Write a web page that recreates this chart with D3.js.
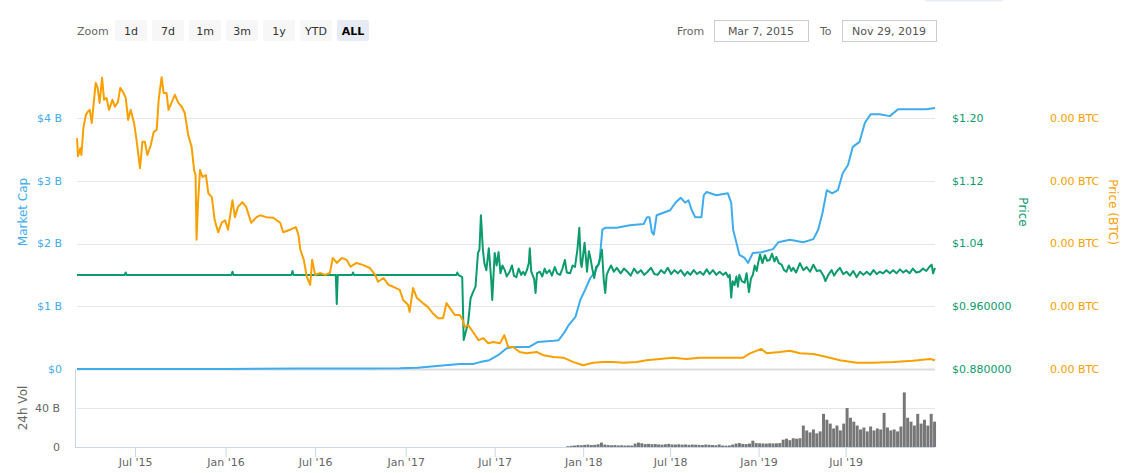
<!DOCTYPE html>
<html>
<head>
<meta charset="utf-8">
<script src="https://cdn.jsdelivr.net/npm/d3@7"></script>
<style>
  body { margin: 0; background: #fff; }
  svg { display: block; font-family: "DejaVu Sans", sans-serif; }
</style>
</head>
<body>
<script>
const width = 1127;
const height = 473;

// ---- data ----
const zoomButtons = ["1d", "7d", "1m", "3m", "1y", "YTD", "ALL"];
const rangeFrom = "Mar 7, 2015";
const rangeTo = "Nov 29, 2019";

const capTicks = [0, 1, 2, 3, 4];                 // billions USD
const priceTicks = [0.88, 0.96, 1.04, 1.12, 1.20]; // USD
const btcTicks = [0, 0.001, 0.002, 0.003, 0.004];  // BTC
const volTicks = [0, 40];                           // billions USD
const xTickDates = ["2015-07-01", "2016-01-01", "2016-07-01", "2017-01-01", "2017-07-01",
  "2018-01-01", "2018-07-01", "2019-01-01", "2019-07-01"];

// market cap, billions USD
const marketCap = [
  ["2015-03-05", 0.0003], ["2015-09-01", 0.0005], ["2016-01-01", 0.001], ["2016-06-01", 0.006],
  ["2016-10-20", 0.008], ["2016-12-20", 0.01], ["2017-01-25", 0.02], ["2017-03-11", 0.05],
  ["2017-04-21", 0.08], ["2017-05-18", 0.08], ["2017-06-01", 0.11], ["2017-06-20", 0.14],
  ["2017-07-08", 0.22], ["2017-07-26", 0.33], ["2017-08-09", 0.35], ["2017-09-10", 0.35],
  ["2017-09-28", 0.43], ["2017-11-01", 0.45], ["2017-11-11", 0.46], ["2017-11-22", 0.57],
  ["2017-12-02", 0.70], ["2017-12-16", 0.83], ["2017-12-26", 1.10], ["2018-01-05", 1.26],
  ["2018-01-16", 1.45], ["2018-01-26", 1.55], ["2018-02-04", 1.71], ["2018-02-10", 2.22],
  ["2018-02-16", 2.25], ["2018-03-12", 2.25], ["2018-04-08", 2.29], ["2018-05-07", 2.31],
  ["2018-05-14", 2.42], ["2018-05-19", 2.42], ["2018-05-24", 2.18], ["2018-05-28", 2.14],
  ["2018-06-03", 2.45], ["2018-07-01", 2.53], ["2018-07-12", 2.65], ["2018-07-23", 2.73],
  ["2018-08-01", 2.65], ["2018-08-08", 2.69], ["2018-08-15", 2.53], ["2018-08-22", 2.42],
  ["2018-09-04", 2.42], ["2018-09-09", 2.77], ["2018-09-15", 2.82], ["2018-10-05", 2.77],
  ["2018-10-29", 2.80], ["2018-11-05", 2.65], ["2018-11-09", 2.22], ["2018-11-16", 2.01],
  ["2018-11-22", 1.82], ["2018-12-03", 1.77], ["2018-12-10", 1.69], ["2018-12-20", 1.85],
  ["2019-01-07", 1.86], ["2019-01-31", 1.91], ["2019-02-11", 2.02], ["2019-03-07", 2.06],
  ["2019-04-04", 2.02], ["2019-04-25", 2.07], ["2019-05-05", 2.22], ["2019-05-14", 2.49],
  ["2019-05-23", 2.85], ["2019-06-03", 2.80], ["2019-06-15", 2.85], ["2019-06-25", 3.12],
  ["2019-07-06", 3.25], ["2019-07-16", 3.54], ["2019-07-30", 3.62], ["2019-08-10", 3.92],
  ["2019-08-22", 4.06], ["2019-09-10", 4.06], ["2019-10-01", 4.03], ["2019-10-18", 4.14],
  ["2019-11-19", 4.14], ["2019-12-16", 4.14], ["2020-01-03", 4.16]
];

// price, USD
const priceUsd = [
  ["2015-03-05", 1.000], ["2015-06-10", 1.000], ["2015-06-12", 1.003], ["2015-06-14", 1.000],
  ["2016-01-13", 1.000], ["2016-01-15", 1.004], ["2016-01-17", 1.000], ["2016-05-14", 1.000],
  ["2016-05-16", 1.005], ["2016-05-18", 1.000], ["2016-08-12", 1.000], ["2016-08-14", 0.963],
  ["2016-08-16", 1.000], ["2016-09-14", 1.000], ["2016-09-16", 1.003], ["2016-09-18", 1.000],
  ["2017-04-14", 1.000], ["2017-04-16", 1.003], ["2017-04-18", 1.000],
  ["2017-04-26", 0.997], ["2017-04-29", 0.917], ["2017-05-03", 0.927], ["2017-05-08", 0.939],
  ["2017-05-13", 0.970], ["2017-05-18", 0.978], ["2017-05-23", 0.985], ["2017-05-28", 1.028],
  ["2017-05-31", 1.032], ["2017-06-03", 1.076], ["2017-06-07", 1.032], ["2017-06-10", 1.015],
  ["2017-06-14", 1.006], ["2017-06-19", 1.034], ["2017-06-24", 0.993], ["2017-06-26", 0.968],
  ["2017-07-01", 1.028], ["2017-07-05", 1.012], ["2017-07-09", 1.029], ["2017-07-13", 1.002],
  ["2017-07-17", 1.012], ["2017-07-22", 1.006], ["2017-07-26", 0.998], ["2017-08-01", 1.004],
  ["2017-08-06", 1.012], ["2017-08-10", 0.999], ["2017-08-15", 0.997], ["2017-08-20", 1.008],
  ["2017-08-25", 1.000], ["2017-08-29", 1.004], ["2017-09-02", 1.000], ["2017-09-06", 1.006],
  ["2017-09-10", 1.015], ["2017-09-12", 1.034], ["2017-09-15", 1.004], ["2017-09-21", 0.995],
  ["2017-09-24", 0.977], ["2017-09-27", 1.002], ["2017-10-03", 1.004], ["2017-10-08", 0.998],
  ["2017-10-13", 1.008], ["2017-10-17", 1.002], ["2017-10-23", 1.006], ["2017-10-28", 0.999],
  ["2017-11-03", 1.010], ["2017-11-08", 1.002], ["2017-11-14", 1.000], ["2017-11-19", 1.008],
  ["2017-11-24", 1.019], ["2017-11-28", 1.003], ["2017-12-05", 1.002], ["2017-12-10", 1.012],
  ["2017-12-15", 1.010], ["2017-12-20", 1.032], ["2017-12-24", 1.060], ["2017-12-27", 1.015],
  ["2017-12-29", 1.010], ["2018-01-04", 1.041], ["2018-01-07", 1.020], ["2018-01-09", 1.004],
  ["2018-01-13", 1.030], ["2018-01-16", 1.022], ["2018-01-20", 1.008], ["2018-01-24", 0.996],
  ["2018-01-28", 1.010], ["2018-02-02", 1.013], ["2018-02-09", 1.032], ["2018-02-13", 0.993],
  ["2018-02-16", 0.977], ["2018-02-19", 1.000], ["2018-02-23", 1.006], ["2018-02-28", 1.012],
  ["2018-03-06", 1.004], ["2018-03-12", 1.009], ["2018-03-20", 1.002], ["2018-03-27", 1.008],
  ["2018-04-03", 1.004], ["2018-04-10", 0.999], ["2018-04-17", 1.008], ["2018-04-24", 1.002],
  ["2018-05-01", 1.006], ["2018-05-08", 1.000], ["2018-05-15", 1.004], ["2018-05-22", 1.009],
  ["2018-05-29", 1.001], ["2018-06-05", 1.000], ["2018-06-12", 1.006], ["2018-06-19", 1.002],
  ["2018-06-26", 1.009], ["2018-07-03", 1.001], ["2018-07-10", 1.006], ["2018-07-17", 1.002],
  ["2018-07-23", 1.006], ["2018-07-31", 0.999], ["2018-08-06", 1.004], ["2018-08-12", 1.000],
  ["2018-08-19", 1.006], ["2018-08-26", 1.001], ["2018-09-01", 1.004], ["2018-09-08", 1.000],
  ["2018-09-15", 1.007], ["2018-09-21", 1.001], ["2018-09-28", 1.006], ["2018-10-05", 1.000],
  ["2018-10-12", 1.004], ["2018-10-19", 1.000], ["2018-10-25", 1.003], ["2018-10-30", 0.997],
  ["2018-11-02", 1.000], ["2018-11-05", 0.971], ["2018-11-08", 0.992], ["2018-11-12", 0.987],
  ["2018-11-16", 0.998], ["2018-11-19", 0.985], ["2018-11-22", 1.000], ["2018-11-27", 0.992],
  ["2018-12-03", 0.990], ["2018-12-07", 1.002], ["2018-12-12", 0.978], ["2018-12-16", 0.995],
  ["2018-12-20", 1.000], ["2018-12-24", 1.012], ["2018-12-28", 1.005], ["2018-12-31", 1.015],
  ["2019-01-04", 1.026], ["2019-01-09", 1.015], ["2019-01-14", 1.025], ["2019-01-19", 1.018],
  ["2019-01-24", 1.019], ["2019-01-29", 1.027], ["2019-02-03", 1.017], ["2019-02-07", 1.023],
  ["2019-02-12", 1.015], ["2019-02-18", 1.013], ["2019-02-23", 1.006], ["2019-02-28", 1.004],
  ["2019-03-05", 1.012], ["2019-03-10", 1.005], ["2019-03-14", 1.009], ["2019-03-20", 1.003],
  ["2019-03-28", 1.015], ["2019-04-04", 1.006], ["2019-04-11", 1.010], ["2019-04-18", 1.004],
  ["2019-04-25", 1.013], ["2019-05-02", 1.005], ["2019-05-09", 1.006], ["2019-05-16", 0.999],
  ["2019-05-20", 0.992], ["2019-05-26", 1.000], ["2019-06-02", 1.006], ["2019-06-07", 0.999],
  ["2019-06-12", 1.004], ["2019-06-19", 1.009], ["2019-06-26", 1.001], ["2019-07-03", 1.004],
  ["2019-07-10", 0.999], ["2019-07-17", 1.005], ["2019-07-24", 0.997], ["2019-07-31", 1.004],
  ["2019-08-07", 1.000], ["2019-08-14", 1.004], ["2019-08-21", 1.000], ["2019-08-28", 1.006],
  ["2019-09-04", 1.001], ["2019-09-10", 1.004], ["2019-09-17", 1.002], ["2019-09-24", 1.006],
  ["2019-10-01", 1.002], ["2019-10-08", 1.006], ["2019-10-15", 1.002], ["2019-10-22", 1.007],
  ["2019-10-29", 1.003], ["2019-11-04", 1.006], ["2019-11-11", 1.002], ["2019-11-18", 1.008],
  ["2019-11-25", 1.003], ["2019-12-02", 1.004], ["2019-12-09", 1.008], ["2019-12-16", 1.005],
  ["2019-12-22", 1.010], ["2019-12-27", 1.013], ["2019-12-30", 1.002], ["2020-01-03", 1.009]
];

// price, BTC
const priceBtc = [
  ["2015-03-05", 0.00368], ["2015-03-07", 0.00339], ["2015-03-12", 0.00352], ["2015-03-14", 0.00341],
  ["2015-03-18", 0.00384], ["2015-03-23", 0.00405], ["2015-03-27", 0.00410], ["2015-03-31", 0.00413],
  ["2015-04-04", 0.00392], ["2015-04-08", 0.00424], ["2015-04-12", 0.00456], ["2015-04-16", 0.00448],
  ["2015-04-20", 0.00424], ["2015-04-25", 0.00464], ["2015-04-29", 0.00429], ["2015-05-04", 0.00432],
  ["2015-05-09", 0.00413], ["2015-05-16", 0.00429], ["2015-05-21", 0.00418], ["2015-05-27", 0.00425],
  ["2015-06-01", 0.00448], ["2015-06-07", 0.00441], ["2015-06-12", 0.00432], ["2015-06-17", 0.00397],
  ["2015-06-22", 0.00413], ["2015-06-29", 0.00392], ["2015-07-04", 0.00365], ["2015-07-11", 0.00320],
  ["2015-07-16", 0.00362], ["2015-07-21", 0.00362], ["2015-07-26", 0.00341], ["2015-08-02", 0.00357],
  ["2015-08-08", 0.00378], ["2015-08-14", 0.00381], ["2015-08-18", 0.00429], ["2015-08-24", 0.00465],
  ["2015-08-28", 0.00440], ["2015-09-03", 0.00440], ["2015-09-07", 0.00413], ["2015-09-13", 0.00424],
  ["2015-09-20", 0.00437], ["2015-09-27", 0.00424], ["2015-10-04", 0.00418], ["2015-10-10", 0.00408],
  ["2015-10-17", 0.00373], ["2015-10-24", 0.00354], ["2015-10-29", 0.00317], ["2015-11-01", 0.00309],
  ["2015-11-03", 0.00206], ["2015-11-06", 0.00265], ["2015-11-10", 0.00317], ["2015-11-15", 0.00306],
  ["2015-11-22", 0.00309], ["2015-11-27", 0.00280], ["2015-12-04", 0.00274], ["2015-12-10", 0.00237],
  ["2015-12-17", 0.00218], ["2015-12-24", 0.00233], ["2015-12-31", 0.00237], ["2016-01-06", 0.00222],
  ["2016-01-15", 0.00269], ["2016-01-20", 0.00242], ["2016-01-26", 0.00258], ["2016-02-04", 0.00266],
  ["2016-02-12", 0.00258], ["2016-02-22", 0.00233], ["2016-03-04", 0.00242], ["2016-03-11", 0.00245],
  ["2016-03-24", 0.00242], ["2016-04-07", 0.00241], ["2016-04-21", 0.00233], ["2016-04-27", 0.00218],
  ["2016-05-11", 0.00222], ["2016-05-23", 0.00226], ["2016-05-28", 0.00214], ["2016-06-01", 0.00190],
  ["2016-06-08", 0.00174], ["2016-06-14", 0.00147], ["2016-06-21", 0.00134], ["2016-06-25", 0.00174],
  ["2016-07-01", 0.00150], ["2016-07-11", 0.00153], ["2016-07-21", 0.00150], ["2016-07-31", 0.00153],
  ["2016-08-06", 0.00177], ["2016-08-14", 0.00169], ["2016-08-24", 0.00177], ["2016-09-03", 0.00174],
  ["2016-09-11", 0.00163], ["2016-09-23", 0.00169], ["2016-10-06", 0.00166], ["2016-10-20", 0.00161],
  ["2016-10-31", 0.00150], ["2016-11-06", 0.00139], ["2016-11-17", 0.00145], ["2016-11-27", 0.00134],
  ["2016-12-07", 0.00131], ["2016-12-20", 0.00126], ["2016-12-27", 0.00110], ["2017-01-06", 0.00102],
  ["2017-01-09", 0.00091], ["2017-01-16", 0.00129], ["2017-01-24", 0.00113], ["2017-02-05", 0.00105],
  ["2017-02-15", 0.00099], ["2017-02-25", 0.00089], ["2017-03-08", 0.00081], ["2017-03-18", 0.00081],
  ["2017-03-25", 0.00105], ["2017-04-01", 0.00097], ["2017-04-11", 0.00086], ["2017-04-21", 0.00086],
  ["2017-04-27", 0.00078], ["2017-05-01", 0.00067], ["2017-05-08", 0.00070], ["2017-05-18", 0.00059],
  ["2017-05-29", 0.00046], ["2017-06-08", 0.00049], ["2017-06-18", 0.00041], ["2017-06-28", 0.00043],
  ["2017-07-12", 0.00041], ["2017-07-21", 0.00054], ["2017-07-29", 0.00035], ["2017-08-08", 0.00035],
  ["2017-08-22", 0.00027], ["2017-09-05", 0.00025], ["2017-09-27", 0.00027], ["2017-10-10", 0.00022],
  ["2017-10-31", 0.00019], ["2017-11-21", 0.00018], ["2017-12-12", 0.00011], ["2018-01-01", 0.00006],
  ["2018-01-22", 0.00010], ["2018-02-11", 0.00011], ["2018-03-05", 0.00011], ["2018-03-26", 0.00010],
  ["2018-04-22", 0.00011], ["2018-05-13", 0.00014], ["2018-06-09", 0.00016], ["2018-07-07", 0.00018],
  ["2018-08-04", 0.00016], ["2018-09-01", 0.00018], ["2018-10-12", 0.00018], ["2018-11-30", 0.00018],
  ["2018-12-14", 0.00025], ["2019-01-07", 0.00032], ["2019-01-18", 0.00025], ["2019-02-14", 0.00027],
  ["2019-03-07", 0.00029], ["2019-03-28", 0.00025], ["2019-04-25", 0.00024], ["2019-05-23", 0.00019],
  ["2019-06-19", 0.00014], ["2019-07-24", 0.00010], ["2019-08-27", 0.00010], ["2019-10-08", 0.00011],
  ["2019-11-18", 0.00013], ["2019-12-24", 0.00016], ["2020-01-03", 0.00014]
];

// 24h volume, billions USD, one value per week starting volStart
const volStart = "2017-11-27";
const volWeekly = [
  0.8, 1.2, 1.5, 2.0, 1.8, 2.2, 2.5, 2.0, 2.2, 2.8, 4.5, 2.5, 2.0, 1.8, 2.0, 1.6, 1.8, 1.5,
  1.6, 1.5, 3.5, 4.5, 3.8, 3.0, 3.2, 2.8, 3.0, 2.6, 2.4, 2.8, 3.2, 2.6, 2.5, 2.8, 2.4, 2.6,
  2.2, 2.5, 2.4, 2.2, 2.0, 2.5, 2.3, 2.0, 1.8, 2.6, 1.5, 1.4, 1.6, 2.5, 3.5, 4.0, 3.2, 3.0,
  3.5, 6.5, 4.0, 3.8, 3.6, 3.5, 3.8, 3.6, 3.8, 4.0, 7.5, 8.5, 7.0, 9.0, 8.5, 9.0, 22.0, 17.0,
  15.0, 18.0, 14.0, 16.0, 34.0, 28.0, 24.0, 19.0, 22.0, 17.0, 24.0, 40.0, 30.0, 26.0, 22.0, 18.0,
  20.0, 16.0, 21.0, 17.0, 19.0, 18.0, 35.0, 20.0, 17.0, 18.0, 16.0, 21.0, 56.0, 30.0, 26.0, 22.0,
  34.0, 24.0, 28.0, 22.0, 34.0, 26.0
];

// ---- layout ----
const plotLeft = 77;
const plotRight = 935;
const mainTop = 118;     // $4 B grid line
const mainBottom = 369;  // $0 grid line
const volTop = 369;
const volBottom = 447;

const capColor = "#3eaced";
const priceColor = "#0c9b6b";
const btcColor = "#f9a000";
const labelGray = "#666";

const parse = d3.utcParse("%Y-%m-%d");

const svg = d3.select("body").append("svg")
  .attr("width", width)
  .attr("height", height);

// the original axis is ordinal-like: earlier years get a bit more room per day
const x = d3.scaleUtc()
  .domain([parse("2015-03-05"), parse("2017-07-01"), parse("2020-01-03")])
  .range([plotLeft, 494.7, plotRight]);

const yCap = d3.scaleLinear().domain([0, 4]).range([mainBottom, mainTop]);
const yPrice = d3.scaleLinear().domain([0.88, 1.20]).range([mainBottom, mainTop]);
const yBtc = d3.scaleLinear().domain([0, 0.004]).range([mainBottom, mainTop]);
const yVol = d3.scaleLinear().domain([0, 80]).range([volBottom, volTop]);

const crisp = v => Math.round(v) + 0.5;

// ---- top controls ----
const controls = svg.append("g");

controls.append("text")
  .attr("x", 77).attr("y", 31)
  .attr("dy", "0.35em")
  .attr("font-size", 11)
  .attr("fill", labelGray)
  .text("Zoom");

const btn = controls.selectAll("g.btn")
  .data(zoomButtons)
  .enter().append("g")
  .attr("class", "btn")
  .attr("transform", (d, i) => `translate(${115 + i * 37}, 20)`);

btn.append("rect")
  .attr("width", 32).attr("height", 21).attr("rx", 2)
  .attr("fill", d => d === "ALL" ? "#e6ebf5" : "#f7f7f7");

btn.append("text")
  .attr("x", 16).attr("y", 11)
  .attr("dy", "0.35em")
  .attr("text-anchor", "middle")
  .attr("font-size", 11)
  .attr("font-weight", d => d === "ALL" ? "bold" : "normal")
  .attr("fill", d => d === "ALL" ? "#000" : "#333")
  .text(d => d);

controls.append("text")
  .attr("x", 677).attr("y", 31).attr("dy", "0.35em")
  .attr("font-size", 11).attr("fill", labelGray)
  .text("From");

controls.append("text")
  .attr("x", 820).attr("y", 31).attr("dy", "0.35em")
  .attr("font-size", 11).attr("fill", labelGray)
  .text("To");

[[714, rangeFrom], [842, rangeTo]].forEach(([bx, label]) => {
  controls.append("rect")
    .attr("x", bx + 0.5).attr("y", 20.5)
    .attr("width", 94).attr("height", 21)
    .attr("fill", "#fff").attr("stroke", "#ccc");
  controls.append("text")
    .attr("x", bx + 47).attr("y", 31).attr("dy", "0.35em")
    .attr("text-anchor", "middle")
    .attr("font-size", 11).attr("fill", "#555")
    .text(label);
});

// sliver of a button cut off at the top edge
controls.append("rect")
  .attr("x", 925).attr("y", -3).attr("width", 78).attr("height", 4.5).attr("rx", 2)
  .attr("fill", "#e6ebf5");

// ---- grid lines ----
const grid = svg.append("g");

grid.selectAll("line.cap")
  .data(capTicks)
  .enter().append("line")
  .attr("x1", plotLeft).attr("x2", plotRight)
  .attr("y1", d => crisp(yCap(d))).attr("y2", d => crisp(yCap(d)))
  .attr("stroke", d => d === 0 ? "#dcdcdc" : "#e6e6e6")
  .attr("stroke-width", d => d === 0 ? 2 : 1);

grid.selectAll("line.vol")
  .data(volTicks.filter(d => d > 0))
  .enter().append("line")
  .attr("x1", plotLeft).attr("x2", plotRight)
  .attr("y1", d => crisp(yVol(d))).attr("y2", d => crisp(yVol(d)))
  .attr("stroke", "#e6e6e6");

// ---- volume bars ----
const volData = volWeekly.map((v, i) => {
  const d0 = d3.utcDay.offset(parse(volStart), i * 7);
  return { d0, d1: d3.utcDay.offset(d0, 7), v };
});

svg.append("g")
  .selectAll("rect")
  .data(volData)
  .enter().append("rect")
  .attr("x", d => x(d.d0))
  .attr("width", d => Math.max(0.5, x(d.d1) - x(d.d0) - 0.4))
  .attr("y", d => yVol(d.v))
  .attr("height", d => yVol(0) - yVol(d.v))
  .attr("fill", "#777");

// ---- lines ----
const lineOf = yScale => d3.line()
  .x(d => x(parse(d[0])))
  .y(d => yScale(d[1]));

svg.append("path")
  .datum(marketCap)
  .attr("d", lineOf(yCap))
  .attr("fill", "none").attr("stroke", capColor)
  .attr("stroke-width", 2).attr("stroke-linejoin", "round");

svg.append("path")
  .datum(priceUsd)
  .attr("d", lineOf(yPrice))
  .attr("fill", "none").attr("stroke", priceColor)
  .attr("stroke-width", 2).attr("stroke-linejoin", "round");

svg.append("path")
  .datum(priceBtc)
  .attr("d", lineOf(yBtc))
  .attr("fill", "none").attr("stroke", btcColor)
  .attr("stroke-width", 2).attr("stroke-linejoin", "round");

// ---- axes ----
// left: market cap
svg.append("g")
  .selectAll("text")
  .data(capTicks)
  .enter().append("text")
  .attr("x", 62).attr("y", d => yCap(d))
  .attr("dy", "0.35em").attr("text-anchor", "end")
  .attr("font-size", 11).attr("fill", capColor)
  .text(d => d === 0 ? "$0" : `$${d} B`);

// right: price USD
const fmtPrice = d => d < 1 ? "$" + d.toFixed(6) : "$" + d.toFixed(2);
svg.append("g")
  .selectAll("text")
  .data(priceTicks)
  .enter().append("text")
  .attr("x", 952).attr("y", d => yPrice(d))
  .attr("dy", "0.35em")
  .attr("font-size", 11).attr("fill", priceColor)
  .text(fmtPrice);

// right: price BTC
svg.append("g")
  .selectAll("text")
  .data(btcTicks)
  .enter().append("text")
  .attr("x", 1050).attr("y", d => yBtc(d))
  .attr("dy", "0.35em")
  .attr("font-size", 11).attr("fill", btcColor)
  .text(d => d.toFixed(2) + " BTC");

// volume axis
svg.append("g")
  .selectAll("text")
  .data(volTicks)
  .enter().append("text")
  .attr("x", 60).attr("y", d => yVol(d))
  .attr("dy", "0.35em").attr("text-anchor", "end")
  .attr("font-size", 11).attr("fill", labelGray)
  .text(d => d === 0 ? "0" : `${d} B`);

svg.append("line")
  .attr("x1", 75.5).attr("x2", 75.5)
  .attr("y1", volTop).attr("y2", volBottom)
  .attr("stroke", "#ccd6eb");

svg.append("line")
  .attr("x1", 75).attr("x2", plotRight)
  .attr("y1", volBottom + 0.5).attr("y2", volBottom + 0.5)
  .attr("stroke", "#ccd6eb");

const xAxis = d3.axisBottom(x)
  .tickValues(xTickDates.map(parse))
  .tickFormat(d3.utcFormat("%b '%y"))
  .tickSize(10)
  .tickSizeOuter(0)
  .tickPadding(1);

const xg = svg.append("g")
  .attr("transform", `translate(0, ${volBottom})`)
  .call(xAxis);

xg.select(".domain").remove();
xg.selectAll(".tick line").attr("stroke", "#ccd6eb");
xg.selectAll(".tick text")
  .attr("fill", labelGray)
  .attr("font-size", 11)
  .attr("font-family", "DejaVu Sans, sans-serif");

// ---- axis titles ----
const axisTitle = (tx, ty, rot, label, color) =>
  svg.append("text")
    .attr("transform", `translate(${tx}, ${ty}) rotate(${rot})`)
    .attr("text-anchor", "middle")
    .attr("dy", "0.35em")
    .attr("font-size", 12)
    .attr("fill", color)
    .text(label);

axisTitle(23, 212, -90, "Market Cap", capColor);
axisTitle(1023, 212, 90, "Price", priceColor);
axisTitle(1113, 212, 90, "Price (BTC)", btcColor);
axisTitle(23, 408, -90, "24h Vol", labelGray);
</script>
</body>
</html>
